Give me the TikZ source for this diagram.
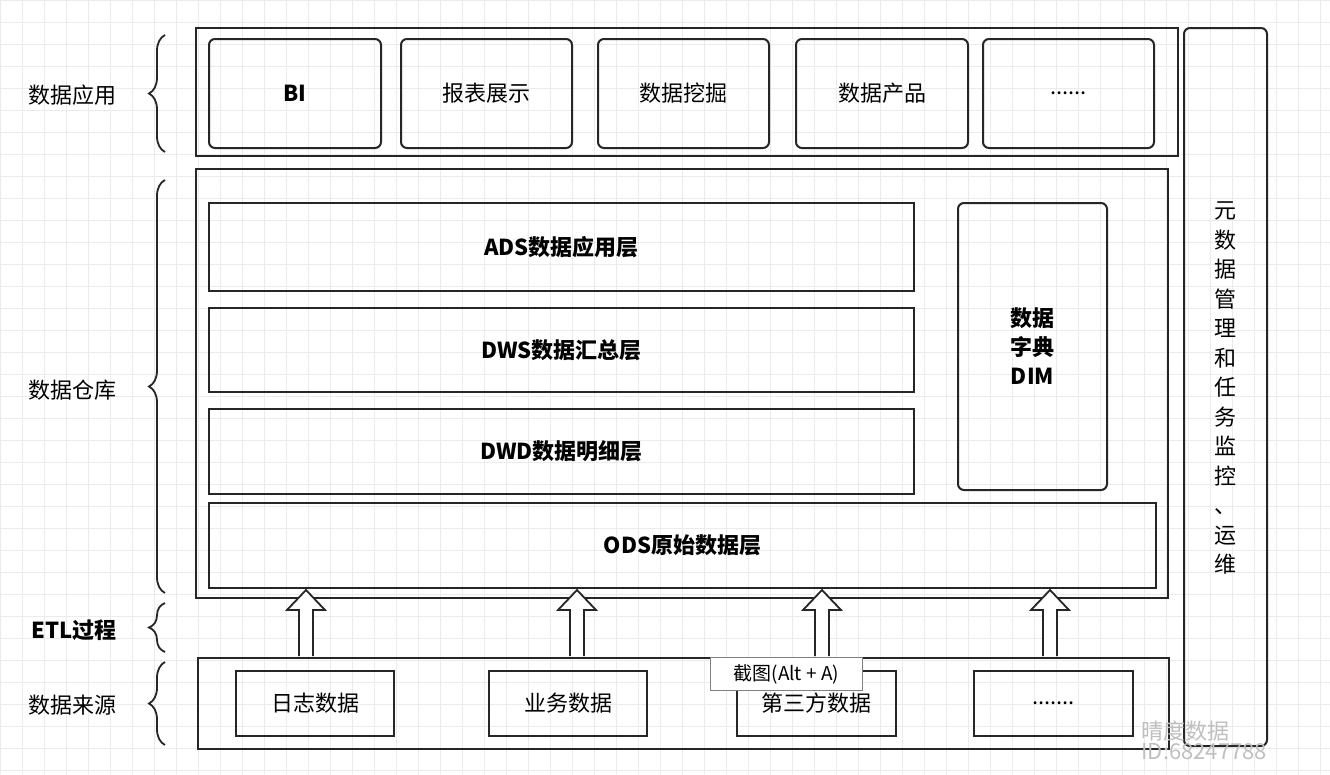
\documentclass[tikz,border=0pt]{standalone}
\usepackage{fontspec}
\setmainfont{Noto Sans CJK SC}
\usetikzlibrary{decorations.pathreplacing}
\begin{document}
\begin{tikzpicture}[x=1pt,y=-1pt,
  box/.style={draw=black!85,line width=2pt},
  rbox/.style={draw=black!85,line width=2pt,rounded corners=6pt},
  lbl/.style={font=\fontsize{22}{26}\selectfont},
  blbl/.style={font=\fontsize{22}{29}\selectfont\bfseries},
  brc/.style={draw=black!85,line width=1.8pt,decorate,decoration={brace,amplitude=16pt}},
  harrow/.style={draw=black!85,line width=1.8pt,fill=white}]
\useasboundingbox (0,0) rectangle (1330,774);
\fill[white] (0,0) rectangle (1330,774);
\foreach \i in {0,22,...,1330} \draw[black!8,line width=0.6pt] (\i,0) -- (\i,774);
\foreach \j in {0,22,...,774} \draw[black!8,line width=0.6pt] (0,\j) -- (1330,\j);
% top app
\node[box,minimum width=982,minimum height=128,anchor=north west] (app) at (195,27) {};
\node[rbox,minimum width=172,minimum height=109,anchor=north west,blbl] (bi) at (208,38) {BI};
\node[rbox,minimum width=171,minimum height=109,anchor=north west,lbl] (bb) at (400,38) {报表展示};
\node[rbox,minimum width=171,minimum height=109,anchor=north west,lbl] (wj) at (597,38) {数据挖掘};
\node[rbox,minimum width=172,minimum height=109,anchor=north west,lbl] (cp) at (795,38) {数据产品};
\node[rbox,minimum width=171,minimum height=109,anchor=north west,lbl] (dd) at (982,38) {......};
% right
\node[rbox,minimum width=83,minimum height=718,anchor=north west] (meta) at (1183,27) {};
\node[align=center,font=\fontsize{22}{29.5}\selectfont] (metat) at (1225,388) {元\\数\\据\\管\\理\\和\\任\\务\\监\\控\\、\\运\\维};
% warehouse
\node[box,minimum width=972,minimum height=429,anchor=north west] (wh) at (195,168) {};
\node[box,minimum width=705,minimum height=88,anchor=north west,blbl] (ads) at (208,202) {ADS数据应用层};
\node[box,minimum width=705,minimum height=84,anchor=north west,blbl] (dws) at (208,307) {DWS数据汇总层};
\node[box,minimum width=705,minimum height=85,anchor=north west,blbl] (dwd) at (208,408) {DWD数据明细层};
\node[rbox,minimum width=149,minimum height=287,anchor=north west,blbl,align=center] (dim) at (957,202) {数据\\字典\\DIM};
\node[box,minimum width=947,minimum height=85,anchor=north west,blbl] (ods) at (208,502) {ODS原始数据层};
% source
\node[box,minimum width=971,minimum height=91,anchor=north west] (src) at (197,657) {};
\node[box,minimum width=158,minimum height=65,anchor=north west,lbl] (s1) at (235,670) {日志数据};
\node[box,minimum width=158,minimum height=65,anchor=north west,lbl] (s2) at (488,670) {业务数据};
\node[box,minimum width=159,minimum height=65,anchor=north west,lbl] (s3) at (736,670) {第三方数据};
\node[box,minimum width=159,minimum height=65,anchor=north west,lbl] (s4) at (973,670) {.......};
% hollow arrows
\foreach \x in {306,577,822,1050}
  \draw[harrow] (\x-7,656) -- (\x-7,610) -- (\x-19,610) -- (\x,590) -- (\x+19,610) -- (\x+7,610) -- (\x+7,656);
% tooltip
\node[draw=black!50,fill=white,line width=0.8pt,minimum width=152,minimum height=33,anchor=north west,font=\fontsize{19}{22}\selectfont] (tip) at (710,657) {截图(Alt + A)};
% watermark
\node[text=black!25,font=\fontsize{22}{24}\selectfont,align=left,anchor=west] (wm) at (1138,740) {晴度数据\\[-4pt]ID:68247788};
% braces and labels
\draw[brc] (165,152) -- (165,35);
\node[lbl,anchor=east] (l1) at (120,95) {数据应用};
\draw[brc] (165,593) -- (165,180);
\node[lbl,anchor=east] (l2) at (120,390) {数据仓库};
\draw[brc] (165,652) -- (165,603);
\node[lbl,anchor=east,font=\fontsize{22}{26}\selectfont\bfseries] (l3) at (120,630) {ETL过程};
\draw[brc] (165,745) -- (165,662);
\node[lbl,anchor=east] (l4) at (120,705) {数据来源};
\end{tikzpicture}
\end{document}
